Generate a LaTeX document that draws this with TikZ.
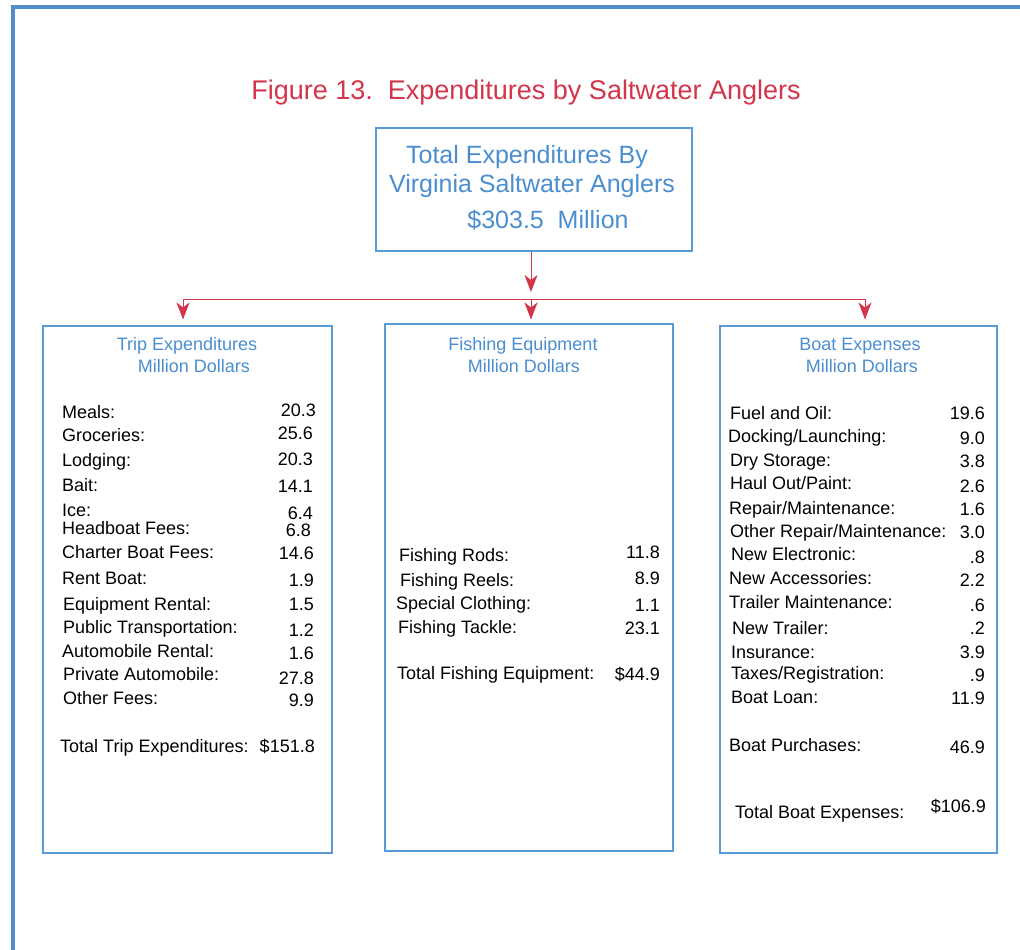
\documentclass[tikz,border=0pt]{standalone}
\usepackage{fontspec}
\setmainfont{Liberation Sans}
\usetikzlibrary{arrows.meta}
\definecolor{marco}{HTML}{4F8ECB}
\definecolor{caja}{HTML}{5B9BD5}
\definecolor{azul}{HTML}{4A8ECF}
\definecolor{rojo}{HTML}{D3354A}

\begin{document}
\begin{tikzpicture}[x=1pt, y=-1pt,
    box/.style={draw=caja, line width=1.1pt, inner sep=0, fill=none},
    head/.style={text=azul, inner sep=0, anchor=base, yshift=-6.5pt, font=\fontsize{18}{21}\selectfont},
    item/.style={anchor=base west, inner sep=0, yshift=-6.5pt, font=\fontsize{18}{21}\selectfont},
    num/.style={anchor=base east, inner sep=0, yshift=-6.5pt, font=\fontsize{18}{21}\selectfont},
    link/.style={draw=rojo, line width=1pt},
    tip/.style={-{Stealth[length=17pt, width=13pt, inset=5pt]}, rojo}]
  \useasboundingbox (0,0) rectangle (1020,950);
  \draw[marco, line width=4pt] (12,7) -- (1020,7);
  \draw[marco, line width=4pt] (13,5) -- (13,950);
  % title
  \node[text=rojo, inner sep=0, font=\fontsize{27}{30}\selectfont] (title) at (526,93) {Figure 13.\ \ Expenditures by Saltwater Anglers};
  % boxes
  \node[box, minimum width=316pt, minimum height=123pt] (total) at (534,189.5) {};
  \node[box, minimum width=289pt, minimum height=527pt] (trip) at (187.5,589.5) {};
  \node[box, minimum width=288pt, minimum height=527pt] (equip) at (529,587.5) {};
  \node[box, minimum width=277pt, minimum height=527pt] (boat) at (858.5,589.5) {};
  \begin{scope}[every node/.style={text=azul, inner sep=0, font=\fontsize{25}{28}\selectfont}]
    \node (tot1) at (527,157) {Total Expenditures By};
    \node (tot2) at (532,186) {Virginia Saltwater Anglers};
    \node (tot3) at (548,220) {\$303.5\ \ Million};
  \end{scope}
  % connectors
  \coordinate (hub) at (531,299);
  \coordinate (hl) at (183,299);
  \coordinate (hr) at (865,299);
  \draw[link, tip] (total.south -| hub) -- ([yshift=7pt]hub);
  \draw[link] (hl) -- (hr);
  \draw[link, tip, shorten >=6pt] (hl) -- (hl |- trip.north);
  \draw[link, tip, shorten >=4pt] (hub) -- (hub |- equip.north);
  \draw[link, tip, shorten >=6pt] (hr) -- (hr |- boat.north);
  % headers
  \node[head] (triph1) at (187,344) {Trip Expenditures};
  \node[head] (triph2) at (194,366) {Million Dollars};
  \node[head] (equiph1) at (523,344) {Fishing Equipment};
  \node[head] (equiph2) at (524,366) {Million Dollars};
  \node[head] (boath1) at (860,344) {Boat Expenses};
  \node[head] (boath2) at (862,366) {Million Dollars};
  % trip expenditures
  \foreach \lx/\lab/\ly/\vx/\val/\vy [count=\i] in {
      62/Meals:/412/316/20.3/410, 62/Groceries:/435/313/25.6/433,
      62/Lodging:/460/313/20.3/459, 62/Bait:/485/313/14.1/486,
      62/Ice:/510/313/6.4/513, 62/Headboat Fees:/528/311/6.8/530,
      62/Charter Boat Fees:/552/314/14.6/553, 62/Rent Boat:/578/314/1.9/580,
      63/Equipment Rental:/604/314/1.5/604, 63/Public Transportation:/627/314/1.2/630,
      62/Automobile Rental:/651/314/1.6/653, 63/Private Automobile:/674/314/27.8/678,
      63/Other Fees:/698/314/9.9/700, 60/Total Trip Expenditures:/746/315/\$151.8/746}{
    \node[item] (trip\i) at (\lx,\ly) {\lab};
    \node[num] (tripv\i) at (\vx,\vy) {\val};
  }
  % fishing equipment
  \foreach \lx/\lab/\ly/\vx/\val/\vy [count=\i] in {
      399/Fishing Rods:/555/660/11.8/552, 400/Fishing Reels:/580/660/8.9/578,
      396/Special Clothing:/603/660/1.1/605, 398/Fishing Tackle:/627/660/23.1/628,
      397/Total Fishing Equipment:/673/660/\$44.9/674}{
    \node[item] (equip\i) at (\lx,\ly) {\lab};
    \node[num] (equipv\i) at (\vx,\vy) {\val};
  }
  % boat expenses
  \foreach \lx/\lab/\ly/\vx/\val/\vy [count=\i] in {
      730/Fuel and Oil:/413/985/19.6/413, 728/{Docking/Launching:}/436/985/9.0/438,
      730/Dry Storage:/460/985/3.8/461, 730/{Haul Out/Paint:}/483/985/2.6/486,
      729/{Repair/Maintenance:}/508/985/1.6/509, 730/{Other Repair/Maintenance:}/531/985/3.0/532,
      731/New Electronic:/554/985/.8/557, 729/New Accessories:/578/985/2.2/580,
      729/Trailer Maintenance:/602/985/.6/605, 732/New Trailer:/628/985/.2/628,
      731/Insurance:/652/985/3.9/652, 731/{Taxes/Registration:}/673/985/.9/675,
      731/Boat Loan:/697/985/11.9/698, 729/Boat Purchases:/745/985/46.9/747,
      735/Total Boat Expenses:/812/986/\$106.9/806}{
    \node[item] (boat\i) at (\lx,\ly) {\lab};
    \node[num] (boatv\i) at (\vx,\vy) {\val};
  }
\end{tikzpicture}
\end{document}
